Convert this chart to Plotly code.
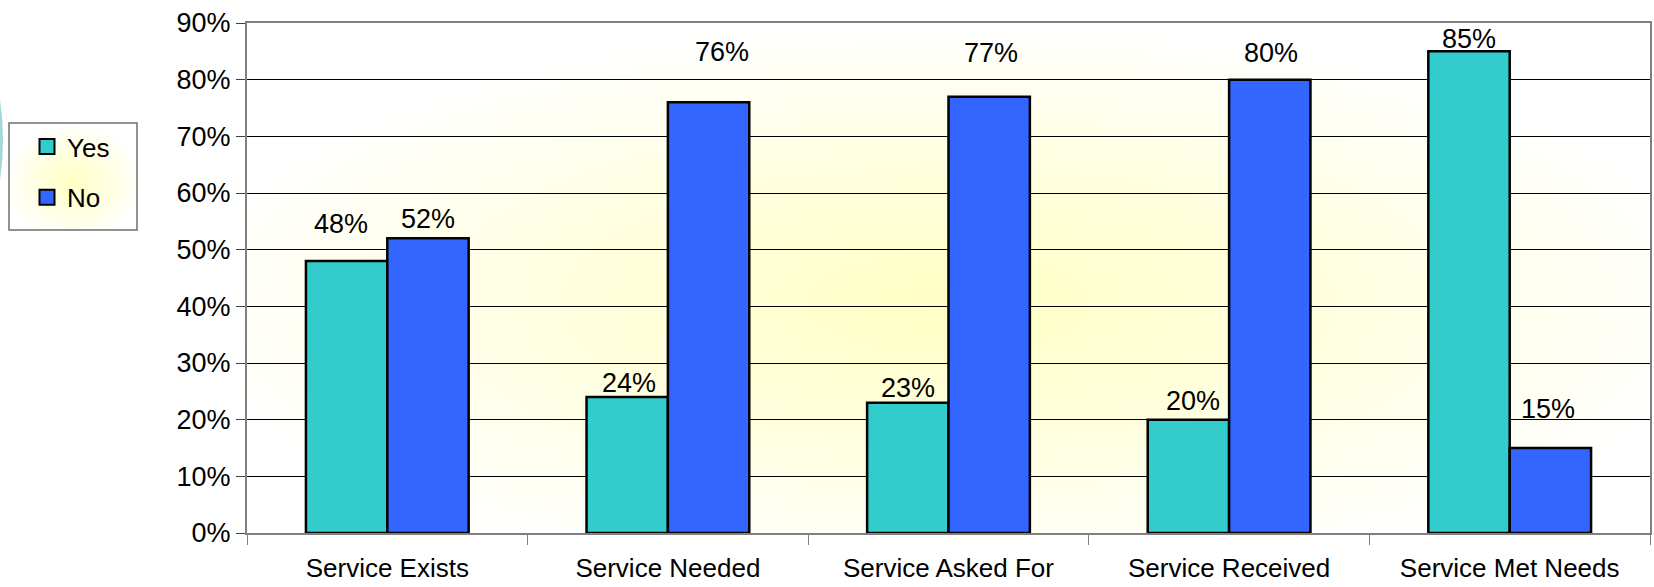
import base64

import plotly.graph_objects as go

# survey data (percent of respondents)
categories = [
    "Service Exists",
    "Service Needed",
    "Service Asked For",
    "Service Received",
    "Service Met Needs",
]
yes_values = [48, 24, 23, 20, 85]
no_values = [52, 76, 77, 80, 15]
y_ticks = [0, 10, 20, 30, 40, 50, 60, 70, 80, 90]
y_tick_text = [f"{v}%" for v in y_ticks]

# label placement tweaks (pixels) to mimic the hand-moved labels in the original
yes_lift = [37, 14, 15, 19, 12]
no_lift = [19, 50, 44, 27, 39]
yes_nudge = [-6, 2, 0, 5, 0]
no_nudge = [0, 13, 2, 1, -2]

YES_COLOR = "#33CCCC"
NO_COLOR = "#3366FF"
FONT = "Liberation Sans, Arial, sans-serif"

W, H = 1654, 587
L, R, T, B = 247, 4, 23, 54
plot_w = W - L - R
plot_h = H - T - B


def px_to_paper(px, py):
    return (px - L) / plot_w, (H - B - py) / plot_h


def gradient_uri(center, mid, edge):
    svg = (
        "<svg xmlns='http://www.w3.org/2000/svg' width='200' height='200' "
        "preserveAspectRatio='none'><defs><radialGradient id='g' cx='0.5' cy='0.55' r='0.55'>"
        f"<stop offset='0' stop-color='{center}'/><stop offset='0.5' stop-color='{mid}'/>"
        f"<stop offset='1' stop-color='{edge}'/>"
        "</radialGradient></defs><rect width='200' height='200' fill='url(#g)'/></svg>"
    )
    return "data:image/svg+xml;base64," + base64.b64encode(svg.encode()).decode()


bargap = 0.42
half_bar = plot_w / len(categories) * (1 - bargap) / 4

fig = go.Figure()
fig.add_trace(
    go.Bar(
        name="Yes",
        x=categories,
        y=yes_values,
        marker=dict(color=YES_COLOR, line=dict(color="black", width=2.5)),
        showlegend=False,
    )
)
fig.add_trace(
    go.Bar(
        name="No",
        x=categories,
        y=no_values,
        marker=dict(color=NO_COLOR, line=dict(color="black", width=2.5)),
        showlegend=False,
    )
)

# legend entries with bigger square swatches than the bar default
for name, color in [("Yes", YES_COLOR), ("No", NO_COLOR)]:
    fig.add_trace(
        go.Scatter(
            name=name,
            x=[None],
            y=[None],
            mode="markers",
            marker=dict(symbol="square", size=15, color=color,
                        line=dict(color="black", width=2)),
            legendgroup=name,
        )
    )

# data labels
annotations = []
for i, cat in enumerate(categories):
    annotations.append(
        dict(
            x=cat, y=yes_values[i], xref="x", yref="y",
            text=f"{yes_values[i]}%", showarrow=False,
            xshift=-half_bar + yes_nudge[i], yshift=yes_lift[i],
            yanchor="middle", font=dict(family=FONT, size=27, color="black"),
        )
    )
    annotations.append(
        dict(
            x=cat, y=no_values[i], xref="x", yref="y",
            text=f"{no_values[i]}%", showarrow=False,
            xshift=half_bar + no_nudge[i], yshift=no_lift[i],
            yanchor="middle", font=dict(family=FONT, size=27, color="black"),
        )
    )

# background gradients (plot area and legend box)
lg_x0, lg_y0 = px_to_paper(9, 123)
lg_x1, lg_y1 = px_to_paper(137, 230)
leg_x, _ = px_to_paper(27, 123)
images = [
    dict(
        source=gradient_uri("#FFFFC4", "#FFFFE0", "#FFFFFF"),
        xref="paper", yref="paper", x=0, y=1, sizex=1, sizey=1,
        xanchor="left", yanchor="top", sizing="stretch", layer="below",
    ),
    dict(
        source=gradient_uri("#FFFFC4", "#FFFFE0", "#FFFFFF"),
        xref="paper", yref="paper", x=lg_x0, y=lg_y0,
        sizex=lg_x1 - lg_x0, sizey=lg_y0 - lg_y1,
        xanchor="left", yanchor="top", sizing="stretch", layer="below",
    ),
]

# faint teal ring peeking in from the slide background on the far left
rx0, ry0 = px_to_paper(-535, -128)
rx1, ry1 = px_to_paper(1, 408)
shapes = [
    dict(
        type="circle", xref="paper", yref="paper",
        x0=rx0, x1=rx1, y0=ry1, y1=ry0,
        line=dict(color="#A6D6D6", width=4),
    ),
    # legend frame
    dict(
        type="rect", xref="paper", yref="paper",
        x0=lg_x0, x1=lg_x1, y0=lg_y1, y1=lg_y0,
        line=dict(color="#6f6f6f", width=1.5),
    ),
]

fig.update_layout(
    width=W,
    height=H,
    margin=dict(l=L, r=R, t=T, b=B, pad=0),
    barmode="group",
    bargap=bargap,
    bargroupgap=0,
    paper_bgcolor="white",
    plot_bgcolor="rgba(0,0,0,0)",
    font=dict(family=FONT, size=27, color="black"),
    annotations=annotations,
    images=images,
    shapes=shapes,
    showlegend=True,
    legend=dict(
        x=leg_x, y=lg_y0, xanchor="left", yanchor="top",
        bgcolor="rgba(0,0,0,0)", borderwidth=0,
        font=dict(family=FONT, size=26, color="black"),
        traceorder="grouped", tracegroupgap=14,
        itemwidth=30,
    ),
    xaxis=dict(
        automargin=False,
        showline=True, linecolor="#808080", linewidth=2, mirror=True,
        ticks="outside", tickson="boundaries", ticklen=10,
        tickcolor="#808080", tickwidth=1,
        ticklabelstandoff=11,
        tickfont=dict(family=FONT, size=26, color="black"),
        showgrid=False,
    ),
    yaxis=dict(
        automargin=False,
        range=[0, 90],
        tickmode="array",
        tickvals=y_ticks,
        ticktext=y_tick_text,
        showline=True, linecolor="#808080", linewidth=2, mirror=True,
        ticks="outside", ticklen=9, tickcolor="#404040", tickwidth=1,
        showgrid=True, gridcolor="black", gridwidth=1,
        zeroline=False,
        tickfont=dict(family=FONT, size=27, color="black"),
    ),
)

fig.write_html(
    "out.html",
    config={"displayModeBar": False},
    post_script="document.body.style.margin = '0';",
)
